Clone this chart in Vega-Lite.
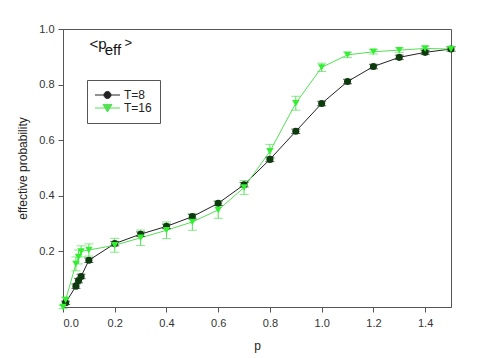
{
  "$schema": "https://vega.github.io/schema/vega-lite/v6.json",
  "width": 388,
  "height": 278,
  "autosize": {"type": "none"},
  "padding": {"left": 63, "top": 29, "right": 47, "bottom": 51},
  "background": "white",
  "config": {
    "font": "Liberation Sans",
    "view": {"stroke": "#555", "strokeWidth": 1},
    "axis": {"grid": false, "domainColor": "#555", "tickColor": "#555", "labelColor": "#333", "titleColor": "#222", "labelFontSize": 11, "titleFontSize": 12, "titleFontWeight": "normal", "tickSize": 5}
  },
  "data": {
    "values": [
      {"p": 0.01, "v": 0.015, "err": 0.006, "T": "T=8"},
      {"p": 0.05, "v": 0.075, "err": 0.008, "T": "T=8"},
      {"p": 0.06, "v": 0.095, "err": 0.008, "T": "T=8"},
      {"p": 0.07, "v": 0.11, "err": 0.008, "T": "T=8"},
      {"p": 0.1, "v": 0.168, "err": 0.008, "T": "T=8"},
      {"p": 0.2, "v": 0.228, "err": 0.008, "T": "T=8"},
      {"p": 0.3, "v": 0.262, "err": 0.008, "T": "T=8"},
      {"p": 0.4, "v": 0.29, "err": 0.008, "T": "T=8"},
      {"p": 0.5, "v": 0.325, "err": 0.008, "T": "T=8"},
      {"p": 0.6, "v": 0.373, "err": 0.008, "T": "T=8"},
      {"p": 0.7, "v": 0.44, "err": 0.008, "T": "T=8"},
      {"p": 0.8, "v": 0.531, "err": 0.008, "T": "T=8"},
      {"p": 0.9, "v": 0.632, "err": 0.008, "T": "T=8"},
      {"p": 1.0, "v": 0.732, "err": 0.008, "T": "T=8"},
      {"p": 1.1, "v": 0.811, "err": 0.008, "T": "T=8"},
      {"p": 1.2, "v": 0.865, "err": 0.008, "T": "T=8"},
      {"p": 1.3, "v": 0.898, "err": 0.008, "T": "T=8"},
      {"p": 1.4, "v": 0.916, "err": 0.008, "T": "T=8"},
      {"p": 1.5, "v": 0.928, "err": 0.008, "T": "T=8"},
      {"p": 0.0, "v": 0.0, "err": 0.006, "T": "T=16"},
      {"p": 0.01, "v": 0.025, "err": 0.01, "T": "T=16"},
      {"p": 0.05, "v": 0.155, "err": 0.025, "T": "T=16"},
      {"p": 0.06, "v": 0.18, "err": 0.025, "T": "T=16"},
      {"p": 0.07, "v": 0.2, "err": 0.02, "T": "T=16"},
      {"p": 0.1, "v": 0.205, "err": 0.022, "T": "T=16"},
      {"p": 0.2, "v": 0.222, "err": 0.025, "T": "T=16"},
      {"p": 0.3, "v": 0.249, "err": 0.028, "T": "T=16"},
      {"p": 0.4, "v": 0.276, "err": 0.03, "T": "T=16"},
      {"p": 0.5, "v": 0.306, "err": 0.03, "T": "T=16"},
      {"p": 0.6, "v": 0.349, "err": 0.03, "T": "T=16"},
      {"p": 0.7, "v": 0.43, "err": 0.025, "T": "T=16"},
      {"p": 0.8, "v": 0.56, "err": 0.025, "T": "T=16"},
      {"p": 0.9, "v": 0.733, "err": 0.025, "T": "T=16"},
      {"p": 1.0, "v": 0.862, "err": 0.015, "T": "T=16"},
      {"p": 1.1, "v": 0.907, "err": 0.01, "T": "T=16"},
      {"p": 1.2, "v": 0.918, "err": 0.008, "T": "T=16"},
      {"p": 1.3, "v": 0.924, "err": 0.008, "T": "T=16"},
      {"p": 1.4, "v": 0.93, "err": 0.008, "T": "T=16"},
      {"p": 1.5, "v": 0.928, "err": 0.008, "T": "T=16"}
    ]
  },
  "layer": [
    {
      "mark": {"type": "line", "strokeWidth": 1},
      "encoding": {
        "x": {
          "field": "p", "type": "quantitative", "title": "p",
          "scale": {"domain": [0, 1.5], "nice": false, "zero": false},
          "axis": {"values": [0, 0.2, 0.4, 0.6, 0.8, 1.0, 1.2, 1.4], "format": ".1f", "labelPadding": 5, "titlePadding": 12}
        },
        "y": {
          "field": "v", "type": "quantitative", "title": "effective probability",
          "scale": {"domain": [0, 1.0], "nice": false, "zero": false},
          "axis": {"values": [0.2, 0.4, 0.6, 0.8, 1.0], "format": ".1f", "labelPadding": 4, "titlePadding": 9}
        },
        "color": {
          "field": "T", "type": "nominal",
          "scale": {"domain": ["T=8", "T=16"], "range": ["#222222", "#55e055"]},
          "legend": {
            "title": null, "orient": "none", "legendX": 24, "legendY": 51,
            "strokeColor": "#555", "padding": 8, "fillColor": "white",
            "labelFontSize": 12, "labelColor": "#222", "labelOffset": 15, "rowPadding": 0,
            "symbolSize": 169,
            "encode": {
              "symbols": {
                "update": {
                  "shape": [
                    {"test": "datum.value === 'T=8'", "value": "M-1.08,0L2.77,0M0.3,0A0.54,0.54 0 1,0 1.38,0A0.54,0.54 0 1,0 0.3,0Z"},
                    {"value": "M-1.08,0L2.77,0M0.15,-0.55L1.54,-0.55L0.846,0.62Z"}
                  ],
                  "fill": [
                    {"test": "datum.value === 'T=8'", "value": "#0d3b0d"},
                    {"value": "#33ee33"}
                  ],
                  "stroke": [
                    {"test": "datum.value === 'T=8'", "value": "#222222"},
                    {"value": "#55e055"}
                  ],
                  "strokeWidth": {"value": 1},
                  "opacity": {"value": 1}
                }
              }
            }
          }
        }
      }
    },
    {
      "mark": {"type": "errorbar", "ticks": {"size": 9}, "thickness": 1},
      "encoding": {
        "x": {"field": "p", "type": "quantitative", "title": "p"},
        "y": {"field": "v", "type": "quantitative", "title": "effective probability"},
        "yError": {"field": "err"},
        "color": {"field": "T", "type": "nominal"}
      }
    },
    {
      "transform": [{"filter": "datum.T === 'T=8'"}],
      "mark": {"type": "point", "filled": true, "opacity": 1, "size": 50, "shape": "circle", "color": "#0d3b0d"},
      "encoding": {
        "x": {"field": "p", "type": "quantitative", "title": "p"},
        "y": {"field": "v", "type": "quantitative", "title": "effective probability"}
      }
    },
    {
      "transform": [{"filter": "datum.T === 'T=16'"}],
      "mark": {"type": "point", "filled": true, "opacity": 1, "size": 55, "shape": "triangle-down", "color": "#33ee33"},
      "encoding": {
        "x": {"field": "p", "type": "quantitative", "title": "p"},
        "y": {"field": "v", "type": "quantitative", "title": "effective probability"}
      }
    },
    {
      "transform": [{"filter": "datum.T === 'T=8' && datum.p === 1.5"}],
      "mark": {"type": "text", "align": "left", "baseline": "alphabetic", "fontSize": 15, "color": "#111"},
      "encoding": {"x": {"datum": 0.102}, "y": {"datum": 0.929}, "text": {"value": "<p"}}
    },
    {
      "transform": [{"filter": "datum.T === 'T=8' && datum.p === 1.5"}],
      "mark": {"type": "text", "align": "left", "baseline": "alphabetic", "fontSize": 15, "color": "#111"},
      "encoding": {"x": {"datum": 0.161}, "y": {"datum": 0.905}, "text": {"value": "eff"}}
    },
    {
      "transform": [{"filter": "datum.T === 'T=8' && datum.p === 1.5"}],
      "mark": {"type": "text", "align": "left", "baseline": "alphabetic", "fontSize": 13, "color": "#111"},
      "encoding": {"x": {"datum": 0.238}, "y": {"datum": 0.935}, "text": {"value": ">"}}
    }
  ]
}
